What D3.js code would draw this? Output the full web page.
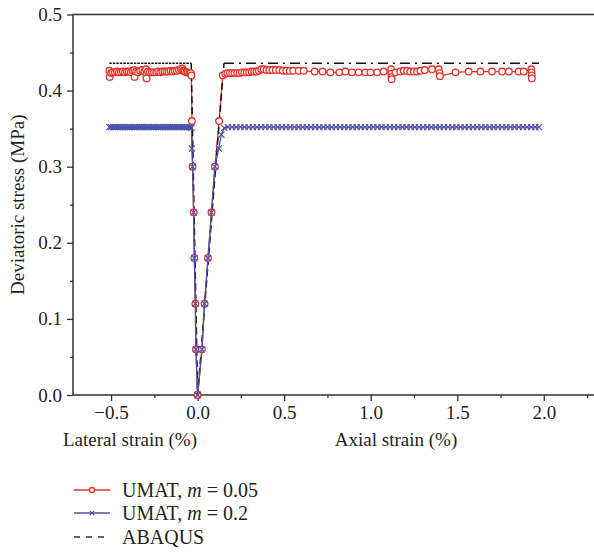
<!DOCTYPE html>
<html>
<head>
<meta charset="utf-8">
<script src="https://cdn.jsdelivr.net/npm/d3@7"></script>
<style>
  body { margin: 0; background: #fff; }
  svg text { font-family: "Liberation Serif", "DejaVu Serif", serif; fill: #231f20; }
</style>
</head>
<body>
<div id="chart"></div>
<script>
// Chart values (strain %, stress MPa)
var xTicks = [-0.5, 0.0, 0.5, 1.0, 1.5, 2.0];
var yTicks = [0.0, 0.1, 0.2, 0.3, 0.4, 0.5];

var redLateral = [
  [-0.510,0.426],[-0.508,0.418],[-0.500,0.423],[-0.490,0.424],[-0.478,0.424],[-0.466,0.425],
  [-0.455,0.424],[-0.443,0.424],[-0.432,0.425],[-0.420,0.424],[-0.409,0.425],[-0.398,0.425],
  [-0.386,0.424],[-0.375,0.426],[-0.366,0.427],[-0.364,0.418],[-0.355,0.425],[-0.344,0.424],
  [-0.332,0.426],[-0.320,0.427],[-0.308,0.425],[-0.298,0.428],[-0.296,0.421],[-0.295,0.416],
  [-0.287,0.425],[-0.276,0.424],[-0.264,0.424],[-0.252,0.424],[-0.240,0.424],[-0.228,0.425],
  [-0.216,0.424],[-0.204,0.425],[-0.192,0.425],[-0.180,0.425],[-0.168,0.425],[-0.156,0.426],
  [-0.144,0.425],[-0.132,0.426],[-0.120,0.426],[-0.108,0.427],[-0.096,0.428],[-0.088,0.429],
  [-0.082,0.426],[-0.075,0.425],[-0.066,0.424],[-0.057,0.424],[-0.048,0.423],[-0.040,0.423],
  [-0.036,0.420],[-0.033,0.360],[-0.029,0.300],[-0.023,0.240],[-0.019,0.180],[-0.013,0.120],
  [-0.010,0.060],[0.000,0.000]
];

var redAxial = [
  [0.000,0.000],[0.025,0.060],[0.040,0.120],[0.060,0.180],[0.080,0.240],[0.100,0.300],
  [0.124,0.360],[0.145,0.420],[0.160,0.422],[0.172,0.423],[0.186,0.423],[0.200,0.423],
  [0.214,0.423],[0.228,0.423],[0.242,0.423],[0.256,0.424],[0.270,0.424],[0.284,0.424],
  [0.298,0.424],[0.312,0.425],[0.326,0.425],[0.340,0.425],[0.354,0.426],[0.368,0.428],
  [0.382,0.428],[0.398,0.427],[0.415,0.427],[0.433,0.427],[0.452,0.427],[0.472,0.427],
  [0.492,0.426],[0.512,0.426],[0.532,0.426],[0.552,0.426],[0.584,0.426],[0.613,0.426],
  [0.676,0.425],[0.722,0.425],[0.767,0.424],[0.819,0.424],[0.854,0.425],[0.892,0.424],
  [0.931,0.424],[0.969,0.424],[0.998,0.424],[1.037,0.424],[1.075,0.425],[1.118,0.428],
  [1.119,0.422],[1.120,0.418],[1.121,0.415],[1.143,0.424],[1.171,0.425],[1.191,0.426],
  [1.210,0.426],[1.229,0.425],[1.249,0.425],[1.268,0.425],[1.287,0.426],[1.312,0.427],
  [1.354,0.428],[1.393,0.428],[1.398,0.423],[1.400,0.419],[1.490,0.424],[1.566,0.425],
  [1.634,0.425],[1.701,0.425],[1.759,0.425],[1.798,0.425],[1.855,0.425],[1.884,0.425],
  [1.928,0.428],[1.929,0.424],[1.930,0.420],[1.931,0.416]
];

var blueLateral = [
  [-0.510,0.352],[-0.500,0.352],[-0.490,0.352],[-0.480,0.352],[-0.470,0.352],[-0.460,0.352],
  [-0.450,0.352],[-0.440,0.352],[-0.430,0.352],[-0.420,0.352],[-0.410,0.352],[-0.400,0.352],
  [-0.390,0.352],[-0.380,0.352],[-0.370,0.352],[-0.360,0.352],[-0.350,0.352],[-0.340,0.352],
  [-0.330,0.352],[-0.320,0.352],[-0.310,0.352],[-0.300,0.352],[-0.290,0.352],[-0.280,0.352],
  [-0.270,0.352],[-0.260,0.352],[-0.250,0.352],[-0.240,0.352],[-0.230,0.352],[-0.220,0.352],
  [-0.210,0.352],[-0.200,0.352],[-0.190,0.352],[-0.180,0.352],[-0.170,0.352],[-0.160,0.352],
  [-0.150,0.352],[-0.140,0.352],[-0.130,0.352],[-0.120,0.352],[-0.110,0.352],[-0.100,0.352],
  [-0.090,0.352],[-0.080,0.352],[-0.070,0.352],[-0.060,0.352],[-0.050,0.352],[-0.042,0.352],
  [-0.036,0.351],[-0.033,0.324],[-0.029,0.300],[-0.023,0.240],[-0.019,0.180],[-0.013,0.120],
  [-0.010,0.060],[0.000,0.000]
];

var blueAxial = [
  [0.000,0.000],[0.025,0.060],[0.040,0.120],[0.060,0.180],[0.080,0.240],[0.100,0.300],
  [0.122,0.324],[0.137,0.342],[0.154,0.351],[0.175,0.352],[0.199,0.352],[0.223,0.352],
  [0.247,0.352],[0.271,0.352],[0.295,0.352],[0.319,0.352],[0.343,0.352],[0.367,0.352],
  [0.391,0.352],[0.415,0.352],[0.439,0.352],[0.463,0.352],[0.487,0.352],[0.511,0.352],
  [0.535,0.352],[0.559,0.352],[0.583,0.352],[0.607,0.352],[0.631,0.352],[0.655,0.352],
  [0.679,0.352],[0.703,0.352],[0.727,0.352],[0.751,0.352],[0.775,0.352],[0.799,0.352],
  [0.823,0.352],[0.847,0.352],[0.871,0.352],[0.895,0.352],[0.919,0.352],[0.943,0.352],
  [0.967,0.352],[0.991,0.352],[1.015,0.352],[1.039,0.352],[1.063,0.352],[1.087,0.352],
  [1.111,0.352],[1.135,0.352],[1.159,0.352],[1.183,0.352],[1.207,0.352],[1.231,0.352],
  [1.255,0.352],[1.279,0.352],[1.303,0.352],[1.327,0.352],[1.351,0.352],[1.375,0.352],
  [1.399,0.352],[1.423,0.352],[1.447,0.352],[1.471,0.352],[1.495,0.352],[1.519,0.352],
  [1.543,0.352],[1.567,0.352],[1.591,0.352],[1.615,0.352],[1.639,0.352],[1.663,0.352],
  [1.687,0.352],[1.711,0.352],[1.735,0.352],[1.759,0.352],[1.783,0.352],[1.807,0.352],
  [1.831,0.352],[1.855,0.352],[1.879,0.352],[1.903,0.352],[1.927,0.352],[1.951,0.352],
  [1.972,0.352]
];

// ABAQUS reference curve, split into pieces (dash pattern restarts in the original)
var abaqusLateralTop = [[-0.510,0.436],[-0.037,0.436]];
var abaqusV = [[-0.037,0.436],[0.000,0.000],[0.152,0.436]];
var abaqusAxialTop = [[0.152,0.436],[1.972,0.436]];

var legendLabels = ["UMAT, ", "UMAT, ", "ABAQUS"];
var legendM = ["0.05", "0.2", null];

var width = 594, height = 557;
var plotLeft = 73, plotRight = 594, plotTop = 14.5, plotBottom = 395;
var red = "#e4332a", blue = "#4d52a6";

var svg = d3.select("#chart").append("svg")
    .attr("width", width)
    .attr("height", height);

var xScale = d3.scaleLinear().domain([-0.72, 2.29]).range([plotLeft, plotRight]);
var yScale = d3.scaleLinear().domain([0, 0.5]).range([plotBottom, plotTop]);

var line = d3.line()
    .x(function(d) { return xScale(d[0]); })
    .y(function(d) { return yScale(d[1]); });

// axes
var xAxis = d3.axisBottom(xScale).tickValues(xTicks).tickSize(6).tickPadding(5)
    .tickFormat(function(d) { return d === 0 ? "0.0" : d3.format(".1f")(d).replace("-", "\u2212"); });
var xMinor = d3.axisBottom(xScale).tickValues([-0.25, 0.25, 0.75, 1.25, 1.75, 2.25]).tickSize(3).tickFormat("");
var yAxis = d3.axisLeft(yScale).tickValues(yTicks).tickSize(6).tickPadding(5).tickFormat(d3.format(".1f"));
var yMinor = d3.axisLeft(yScale).tickValues([0.05, 0.15, 0.25, 0.35, 0.45]).tickSize(3).tickFormat("");

function styleAxis(g) {
  g.selectAll("path").remove();
  g.selectAll("line").attr("stroke", "#333").attr("stroke-width", 1.3);
  g.selectAll("text").attr("font-size", 19).attr("fill", "#231f20")
    .style("font-family", "'Liberation Serif', serif");
}

svg.append("g").attr("transform", "translate(0," + plotBottom + ")").call(xAxis).call(styleAxis);
svg.append("g").attr("transform", "translate(0," + plotBottom + ")").call(xMinor).call(styleAxis);
svg.append("g").attr("transform", "translate(" + plotLeft + ",0)").call(yAxis).call(styleAxis);
svg.append("g").attr("transform", "translate(" + plotLeft + ",0)").call(yMinor).call(styleAxis);

// frame lines: left, bottom, top
svg.append("path")
    .attr("d", "M" + plotRight + "," + plotTop + "H" + plotLeft + "V" + plotBottom + "H" + plotRight)
    .attr("fill", "none")
    .attr("stroke", "#333")
    .attr("stroke-width", 1.5);

// axis titles
svg.append("text")
    .attr("transform", "translate(24," + ((plotTop + plotBottom) / 2) + ")rotate(-90)")
    .attr("text-anchor", "middle")
    .attr("font-size", 19)
    .text("Deviatoric stress (MPa)");

svg.append("text").attr("x", 130).attr("y", 446).attr("text-anchor", "middle")
    .attr("font-size", 19).text("Lateral strain (%)");
svg.append("text").attr("x", 396).attr("y", 446).attr("text-anchor", "middle")
    .attr("font-size", 19).text("Axial strain (%)");

// UMAT m = 0.05
[redLateral, redAxial].forEach(function(data) {
  svg.append("path").datum(data)
      .attr("d", line)
      .attr("fill", "none")
      .attr("stroke", red)
      .attr("stroke-width", 1.3);
});

// ABAQUS
svg.append("path").datum(abaqusLateralTop).attr("d", line)
    .attr("fill", "none").attr("stroke", "#111").attr("stroke-width", 1.4)
    .attr("stroke-dasharray", "2.5,1");
svg.append("path").datum(abaqusV).attr("d", line)
    .attr("fill", "none").attr("stroke", "#111").attr("stroke-width", 1.5)
    .attr("stroke-dasharray", "7,4");
svg.append("path").datum(abaqusAxialTop).attr("d", line)
    .attr("fill", "none").attr("stroke", "#111").attr("stroke-width", 1.4)
    .attr("stroke-dasharray", "10,5,2,5");

[redLateral, redAxial].forEach(function(data) {
  svg.append("g").selectAll("circle").data(data).enter()
      .append("circle")
      .attr("cx", function(d) { return xScale(d[0]); })
      .attr("cy", function(d) { return yScale(d[1]); })
      .attr("r", 3.3)
      .attr("fill", "#fff")
      .attr("stroke", red)
      .attr("stroke-width", 1.3);
});

// UMAT m = 0.2
var cross = d3.symbol().type(d3.symbolX).size(26);
[blueLateral, blueAxial].forEach(function(data) {
  svg.append("path").datum(data)
      .attr("d", line)
      .attr("fill", "none")
      .attr("stroke", blue)
      .attr("stroke-width", 1.3);
  svg.append("g").selectAll("path").data(data).enter()
      .append("path")
      .attr("d", cross)
      .attr("transform", function(d) { return "translate(" + xScale(d[0]) + "," + yScale(d[1]) + ")"; })
      .attr("fill", "none")
      .attr("stroke", blue)
      .attr("stroke-width", 1.2);
});

// legend
var legendY = [490, 513, 537];
var legend = svg.append("g");
legendY.forEach(function(y, i) {
  var g = legend.append("g").attr("transform", "translate(0," + y + ")");
  if (i === 0) {
    g.append("line").attr("x1", 74).attr("x2", 110).attr("stroke", red).attr("stroke-width", 1.3);
    g.append("circle").attr("cx", 92).attr("r", 2.5).attr("fill", "#fff").attr("stroke", red).attr("stroke-width", 1.3);
  } else if (i === 1) {
    g.append("line").attr("x1", 74).attr("x2", 110).attr("stroke", blue).attr("stroke-width", 1.3);
    g.append("path").attr("d", d3.symbol().type(d3.symbolX).size(14)).attr("transform", "translate(92,0)")
        .attr("fill", "none").attr("stroke", blue).attr("stroke-width", 1.2);
  } else {
    g.append("line").attr("x1", 74).attr("x2", 110).attr("stroke", "#333").attr("stroke-width", 1.4)
        .attr("stroke-dasharray", "6,6");
  }
  var t = g.append("text").attr("x", 122).attr("y", 7).attr("font-size", 20);
  t.append("tspan").text(legendLabels[i]);
  if (legendM[i] !== null) {
    t.append("tspan").attr("font-style", "italic").text("m");
    t.append("tspan").text(" = " + legendM[i]);
  }
});
</script>
</body>
</html>
